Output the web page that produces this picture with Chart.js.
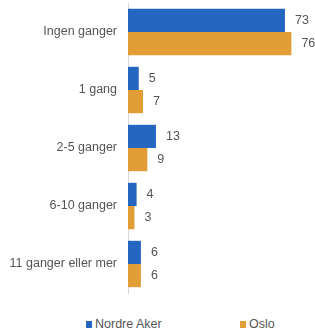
<!DOCTYPE html>
<html>
<head>
  <script src="https://cdn.jsdelivr.net/npm/chart.js"></script>
  <style>
    body { margin: 0; background: #fff; }
    #wrap { position: relative; width: 315px; height: 333px; }
    #legend { position: absolute; top: 317px; left: 0; width: 315px; font: 12.5px "Liberation Sans", Arial, sans-serif; color: #555; }
    .item { position: absolute; top: 0; white-space: nowrap; }
    .box { display: inline-block; width: 6px; height: 7px; margin-right: 3px; vertical-align: 0px; }
  </style>
</head>
<body>
  <div id="wrap">
    <canvas id="chart" width="315" height="300"></canvas>
    <div id="legend">
      <span class="item" style="left:86px"><span class="box" style="background:#2566c0"></span>Nordre Aker</span>
      <span class="item" style="left:240px"><span class="box" style="background:#e29e36"></span>Oslo</span>
    </div>
  </div>
  <script>
    // data
    const categories = ['Ingen ganger', '1 gang', '2-5 ganger', '6-10 ganger', '11 ganger eller mer'];
    const nordreAker = [73, 5, 13, 4, 6];
    const oslo = [76, 7, 9, 3, 6];
    const seriesNames = ['Nordre Aker', 'Oslo'];
    const colors = ['#2566c0', '#e29e36'];

    const FONT = '"Liberation Sans", Arial, sans-serif';

    // numbers at the end of each bar
    const valueLabels = {
      id: 'valueLabels',
      afterDatasetsDraw(chart) {
        const ctx = chart.ctx;
        ctx.save();
        ctx.font = '12.5px ' + FONT;
        ctx.fillStyle = '#555';
        ctx.textAlign = 'left';
        ctx.textBaseline = 'middle';
        chart.data.datasets.forEach((ds, i) => {
          chart.getDatasetMeta(i).data.forEach((bar, j) => {
            ctx.fillText(ds.data[j], bar.x + 10, bar.y);
          });
        });
        ctx.restore();
      }
    };

    new Chart(document.getElementById('chart'), {
      type: 'bar',
      data: {
        labels: categories,
        datasets: [
          { label: seriesNames[0], data: nordreAker, backgroundColor: colors[0] },
          { label: seriesNames[1], data: oslo, backgroundColor: colors[1] }
        ]
      },
      options: {
        indexAxis: 'y',
        responsive: false,
        animation: false,
        categoryPercentage: 0.8,
        barPercentage: 1.0,
        layout: { padding: { top: 3, bottom: 7, right: 15, left: 0 } },
        plugins: {
          legend: { display: false },
          tooltip: { enabled: false }
        },
        scales: {
          x: { display: false, min: 0, max: 80 },
          y: {
            afterFit: s => { s.width = 128; s.paddingTop = 0; s.paddingBottom = 0; },
            grid: { display: false, drawTicks: false },
            border: { display: true, color: '#d8d8d8', width: 1 },
            ticks: { padding: 11, color: '#555', font: { family: FONT, size: 12.5 } }
          }
        }
      },
      plugins: [valueLabels]
    });
  </script>
</body>
</html>
